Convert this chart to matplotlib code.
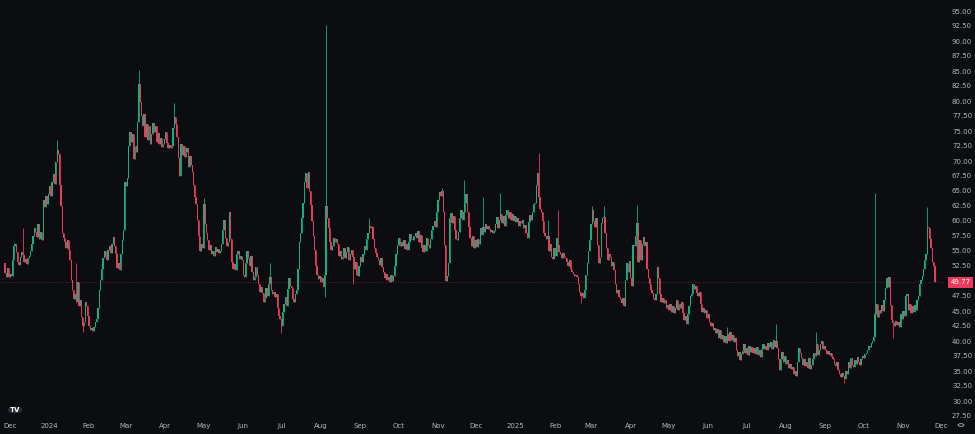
import matplotlib
matplotlib.use("Agg")
import matplotlib.pyplot as plt
import matplotlib.transforms as mtransforms
from matplotlib.patches import Circle
import numpy as np
import pandas as pd

BG = "#0c0d10"
UP = "#14b07f"
DOWN = "#ea3a5c"
TXT = "#b2b5be"

FIRST_OPEN = 53.0
LAST_PRICE = 49.77

# daily closes, one list per month
nov23 = [51.4, 50.6, 52.2, 50.7]
dec23 = [51.2, 50.9, 53.5, 55.8, 56.2, 54.9, 53.2, 52.6, 54.0, 54.8, 54.3, 53.1, 53.6, 52.9, 53.8, 54.2,
         55.0, 56.2, 57.5, 58.8, 58.1, 57.4, 59.5, 57.0, 58.2, 56.9, 63.5, 62.4, 64.1, 62.8, 64.5]
jan24 = [65.8, 64.2, 66.5, 67.9, 66.2, 69.8, 71.8, 71.2, 66.0, 62.5, 58.0, 57.2, 56.5, 55.5, 56.8, 55.2,
         53.5, 50.2, 48.5, 47.0, 47.8, 46.5, 49.8, 45.9, 46.9, 44.0, 42.5, 43.2, 46.5, 45.8, 44.2]
feb24 = [42.5, 41.8, 42.2, 41.6, 42.4, 43.2, 43.6, 45.5, 48.5, 50.2, 52.0, 53.8, 55.0, 54.0, 53.5, 55.2,
         55.8, 54.6, 56.2, 57.3, 55.8, 54.5, 52.2, 53.0, 51.8, 54.5, 56.8, 58.5, 66.5]
mar24 = [65.8, 67.2, 72.5, 74.8, 73.2, 74.5, 70.3, 72.5, 71.5, 76.5, 82.8, 79.8, 77.5, 75.8, 77.8, 74.0,
         76.2, 73.5, 75.8, 72.8, 74.5, 76.4, 74.8, 75.9, 73.2, 74.6, 72.9, 73.8, 72.4, 72.9, 73.6]
apr24 = [74.8, 73.0, 72.2, 72.6, 72.1, 72.5, 75.5, 77.4, 76.2, 74.0, 70.5, 67.5, 72.8, 71.0, 72.5, 70.6,
         71.5, 72.2, 69.0, 70.8, 69.4, 68.2, 66.0, 64.0, 62.8, 60.2, 57.5, 55.0, 56.2, 55.5]
may24 = [62.8, 59.5, 58.0, 56.8, 55.2, 56.0, 54.5, 55.0, 54.2, 55.6, 54.8, 55.4, 54.6, 55.0, 56.2, 58.5,
         60.2, 57.2, 55.9, 56.5, 61.5, 57.0, 53.2, 52.0, 52.8, 51.9, 54.5, 55.0, 53.6, 54.2, 53.5]
jun24 = [51.0, 50.6, 53.0, 55.0, 53.8, 52.5, 54.2, 51.5, 50.2, 50.6, 52.3, 51.0, 49.5, 48.2, 49.0, 48.0,
         46.5, 47.2, 48.8, 47.5, 49.5, 50.6, 48.5, 47.9, 48.2, 47.4, 47.8, 45.5, 44.2, 43.6]
jul24 = [42.5, 44.8, 46.2, 47.3, 45.9, 48.6, 50.5, 49.2, 48.8, 47.0, 46.5, 47.8, 48.5, 52.0, 56.5, 58.0,
         60.5, 63.0, 66.5, 68.0, 65.5, 68.2, 65.0, 62.6, 60.0, 57.5, 55.2, 52.5, 51.0, 50.3, 50.8]
aug24 = [49.8, 50.5, 49.0, 51.0, 62.5, 60.5, 58.8, 56.5, 55.2, 55.8, 57.2, 56.5, 57.0, 56.2, 54.2, 55.0,
         53.6, 54.0, 55.5, 53.8, 54.8, 55.6, 53.5, 54.5, 55.2, 54.0, 52.0, 53.2, 51.0, 50.8, 52.5]
sep24 = [54.0, 53.2, 54.5, 55.8, 55.2, 57.0, 58.0, 59.2, 58.8, 59.0, 57.0, 55.5, 54.6, 54.0, 53.5, 52.6,
         53.8, 52.4, 51.5, 50.5, 51.2, 50.2, 50.6, 49.9, 51.0, 50.0, 50.8, 52.5, 54.5, 56.0]
oct24 = [57.2, 55.8, 56.5, 55.9, 56.8, 55.4, 56.2, 55.2, 56.5, 57.8, 57.0, 56.9, 57.5, 58.0, 57.2, 58.4,
         56.5, 57.6, 55.5, 54.8, 56.0, 55.0, 57.2, 56.0, 55.5, 57.0, 58.5, 59.2, 60.0, 59.0, 61.5]
nov24 = [63.5, 64.8, 64.2, 65.0, 61.5, 56.0, 50.0, 50.8, 53.0, 60.5, 61.3, 59.6, 60.8, 58.5, 57.0, 56.8,
         58.2, 60.5, 61.8, 60.2, 61.5, 63.0, 64.5, 61.5, 59.0, 57.2, 55.8, 57.5, 55.5, 56.8]
dec24 = [55.6, 57.0, 56.2, 58.8, 57.6, 59.0, 58.2, 59.5, 58.6, 59.2, 58.7, 58.2, 58.5, 58.0, 58.4, 59.5,
         60.6, 58.8, 60.2, 61.2, 59.6, 60.8, 59.2, 61.0, 61.8, 60.5, 61.5, 60.2, 61.2, 60.0, 60.8]
jan25 = [59.8, 60.5, 59.2, 60.0, 59.6, 60.2, 58.8, 59.4, 58.0, 57.2, 59.8, 61.0, 60.2, 61.5, 62.8, 63.0,
         66.0, 68.0, 64.0, 62.0, 61.5, 60.0, 58.0, 57.5, 57.0, 57.5, 55.0, 56.2, 54.0, 53.6, 55.5]
feb25 = [54.2, 57.2, 56.0, 54.8, 54.5, 53.9, 54.6, 54.0, 53.8, 53.2, 52.5, 53.5, 52.0, 51.5, 51.2, 50.8,
         51.0, 50.6, 49.5, 48.2, 47.5, 48.0, 47.2, 48.5, 51.0, 53.0, 55.0, 56.8]
mar25 = [59.5, 61.8, 60.0, 59.0, 60.5, 56.0, 53.0, 54.0, 59.6, 60.5, 60.7, 58.0, 55.5, 53.5, 54.5, 54.0,
         52.5, 53.2, 51.8, 49.5, 48.0, 48.5, 47.4, 47.0, 46.3, 47.2, 45.8, 50.2, 53.0, 51.5, 53.4]
apr25 = [50.5, 49.2, 56.0, 55.8, 57.5, 59.6, 53.2, 56.8, 53.5, 56.2, 57.4, 55.8, 56.5, 52.0, 50.5, 49.5,
         48.5, 48.0, 47.2, 46.8, 47.8, 52.4, 50.5, 47.8, 46.5, 47.2, 46.3, 46.8, 45.5, 46.0]
may25 = [45.2, 46.2, 44.8, 45.8, 44.6, 45.5, 46.8, 45.2, 46.2, 45.5, 46.5, 44.6, 43.5, 44.2, 42.9, 44.5,
         45.8, 47.5, 47.9, 49.5, 48.6, 49.2, 48.0, 47.5, 48.2, 46.2, 44.8, 45.5, 44.6, 45.2, 43.8]
jun25 = [44.5, 43.2, 42.5, 43.0, 41.8, 42.2, 41.4, 42.0, 40.5, 41.8, 40.3, 41.0, 39.8, 40.8, 39.6, 41.2,
         40.0, 41.5, 40.2, 41.0, 39.8, 40.5, 38.5, 37.5, 38.2, 36.9, 37.8, 38.4, 39.5, 38.0]
jul25 = [38.8, 37.6, 39.2, 38.2, 39.0, 38.0, 38.8, 37.9, 39.0, 37.6, 38.5, 37.4, 38.6, 39.5, 38.6, 39.2,
         38.5, 39.6, 39.0, 39.8, 38.6, 40.2, 39.0, 40.0, 38.8, 37.0, 35.2, 37.0, 38.2, 36.5, 37.5]
aug25 = [36.2, 36.8, 35.5, 36.2, 35.3, 35.6, 34.5, 35.0, 34.2, 36.5, 38.8, 38.0, 37.2, 36.0, 37.0, 35.8,
         36.5, 35.5, 37.2, 35.4, 36.0, 37.0, 38.0, 37.5, 39.5, 37.6, 38.5, 39.5, 40.0, 38.6, 39.2]
sep25 = [38.5, 37.8, 38.4, 37.6, 38.0, 37.4, 37.0, 36.2, 35.8, 36.5, 35.2, 34.5, 34.0, 34.6, 34.2, 33.6,
         35.0, 34.5, 36.5, 35.5, 37.2, 36.0, 35.6, 36.8, 36.2, 37.4, 36.5, 36.0, 37.0, 37.5]
oct25 = [37.2, 37.8, 38.0, 38.5, 39.2, 39.0, 39.6, 40.0, 40.6, 44.5, 46.2, 44.0, 45.2, 44.6, 46.0, 45.0,
         46.8, 48.8, 50.5, 49.0, 50.6, 46.0, 43.5, 43.0, 42.5, 43.4, 42.6, 43.2, 42.4, 44.5, 43.6]
nov25 = [45.0, 44.2, 47.5, 47.9, 45.2, 46.2, 44.6, 45.8, 44.8, 46.0, 45.2, 46.8, 47.5, 49.5, 50.2, 50.8,
         52.0, 53.5, 54.5, 59.0, 58.8, 57.0, 55.5, 53.2, 52.5, 49.77]

months = [("2023-11-27", nov23), ("2023-12-01", dec23), ("2024-01-01", jan24), ("2024-02-01", feb24),
          ("2024-03-01", mar24), ("2024-04-01", apr24), ("2024-05-01", may24), ("2024-06-01", jun24),
          ("2024-07-01", jul24), ("2024-08-01", aug24), ("2024-09-01", sep24), ("2024-10-01", oct24),
          ("2024-11-01", nov24), ("2024-12-01", dec24), ("2025-01-01", jan25), ("2025-02-01", feb25),
          ("2025-03-01", mar25), ("2025-04-01", apr25), ("2025-05-01", may25), ("2025-06-01", jun25),
          ("2025-07-01", jul25), ("2025-08-01", aug25), ("2025-09-01", sep25), ("2025-10-01", oct25),
          ("2025-11-01", nov25)]

# visible wicks above / below the bodies
wick_high = [("2023-12-11", 58.8), ("2024-01-07", 73.5), ("2024-01-22", 53.0), ("2024-03-11", 85.2),
             ("2024-04-08", 79.6), ("2024-05-01", 63.8), ("2024-06-22", 53.0), ("2024-08-05", 92.7),
             ("2024-09-08", 60.5), ("2024-11-04", 65.5), ("2024-11-21", 66.8), ("2024-12-06", 64.0),
             ("2024-12-20", 64.6), ("2025-01-19", 71.3), ("2025-01-26", 60.2), ("2025-02-03", 61.8),
             ("2025-03-02", 62.5), ("2025-03-11", 62.5), ("2025-04-06", 62.6), ("2025-06-16", 42.4),
             ("2025-07-24", 42.9), ("2025-08-25", 41.5), ("2025-10-10", 64.7), ("2025-11-20", 62.3)]
wick_low = [("2024-01-27", 41.5), ("2024-07-01", 41.3), ("2024-08-04", 47.4), ("2024-08-26", 49.5),
            ("2025-02-21", 46.3), ("2025-09-16", 33.0), ("2025-10-24", 40.5)]

month_ticks = pd.date_range("2023-12-01", "2025-12-01", freq="MS")

# ---- build candles
dates = []
closes = []
for start, vals in months:
    dates += list(pd.date_range(start, periods=len(vals), freq="D"))
    closes += vals
dates = pd.DatetimeIndex(dates)
closes = np.array(closes)
opens = np.r_[FIRST_OPEN, closes[:-1]]
highs = np.maximum(opens, closes)
lows = np.minimum(opens, closes)
for d, v in wick_high:
    i = dates.get_loc(pd.Timestamp(d))
    highs[i] = max(highs[i], v)
for d, v in wick_low:
    i = dates.get_loc(pd.Timestamp(d))
    lows[i] = min(lows[i], v)

ref = pd.Timestamp("2023-12-01")
x = np.array((dates - ref).days, dtype=float)
cols = np.where(closes >= opens, UP, DOWN)

fig = plt.figure(figsize=(9.75, 4.34), dpi=100, facecolor=BG)
ax = fig.add_axes([0, 14 / 434, 945 / 975, 420 / 434], facecolor=BG)

ax.vlines(x, lows, highs, colors=cols, linewidth=0.6)
body = np.maximum(np.abs(closes - opens), 0.15)
ax.bar(x, body, bottom=np.minimum(opens, closes), width=0.95, color=cols, linewidth=0)

ax.axhline(LAST_PRICE, color=DOWN, linestyle=(0, (1, 2)), linewidth=0.6, alpha=0.55)

ax.set_xlim(-10 / 1.274, 935 / 1.274)
ax.set_ylim(95 - 409 / 6, 95 + 11 / 6)

yt = np.arange(27.5, 95.01, 2.5)
ax.yaxis.tick_right()
ax.set_yticks(yt)
ax.set_yticklabels([f"{v:.2f}" for v in yt])

xt = (month_ticks - ref).days
ax.set_xticks(xt)
ax.set_xticklabels([str(m.year) if m.month == 1 else m.strftime("%b") for m in month_ticks])

ax.tick_params(axis="y", length=0, colors=TXT, labelsize=5, pad=5)
ax.tick_params(axis="x", length=0, colors=TXT, labelsize=5, pad=2)
for s in ax.spines.values():
    s.set_visible(False)

trans = mtransforms.blended_transform_factory(ax.transAxes, ax.transData)
ax.text(1.006, LAST_PRICE, f"{LAST_PRICE:.2f}", transform=trans, ha="left", va="center",
        fontsize=5, color="white",
        bbox=dict(boxstyle="square,pad=0.35", facecolor=DOWN, edgecolor="none"))

# tradingview badge and settings glyph
fig.patches.append(Circle((15 / 975, 1 - 410 / 434), 7.5 / 975, transform=fig.transFigure,
                          facecolor="#2a2e39", edgecolor="none"))
fig.text(15 / 975, 1 - 410 / 434, "TV", ha="center", va="center", fontsize=5,
         fontweight="bold", color="white")
fig.patches.append(Circle((961 / 975, 1 - 425 / 434), 3 / 975, transform=fig.transFigure,
                          facecolor="none", edgecolor=TXT, linewidth=0.6))

fig.savefig("out.png", dpi=100, facecolor=BG)
